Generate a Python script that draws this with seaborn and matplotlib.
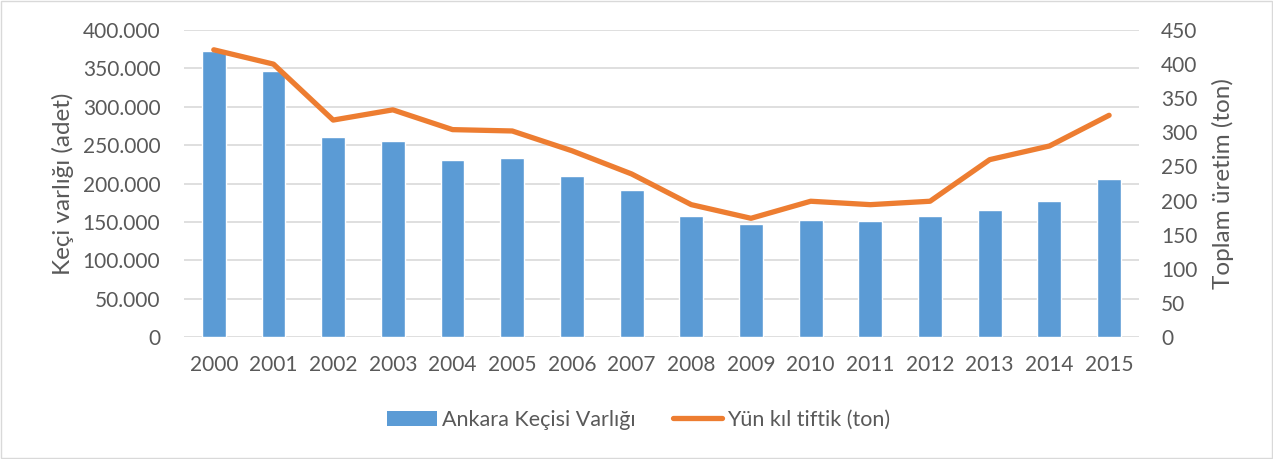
import pandas as pd
import numpy as np
import matplotlib.pyplot as plt
import seaborn as sns
from matplotlib.patches import Patch, Rectangle
from matplotlib.lines import Line2D
from matplotlib.ticker import FuncFormatter

years = ['2000', '2001', '2002', '2003', '2004', '2005', '2006', '2007',
         '2008', '2009', '2010', '2011', '2012', '2013', '2014', '2015']
goats = [373000, 346000, 261000, 256000, 230000, 233000, 209500, 191000,
         158000, 147000, 153000, 151500, 158000, 166000, 177500, 205500]
wool = [421, 400, 318, 333, 304, 302, 273, 239,
        194, 174, 199, 194, 199, 260, 280, 325]

df = pd.DataFrame({'year': years, 'goats': goats, 'wool': wool})

sns.set_theme(style='white')
plt.rcParams['font.family'] = ['Lato', 'DejaVu Sans']
txt = '#595959'
bar_c = '#5B9BD5'
line_c = '#ED7D31'

fig = plt.figure(figsize=(12.73, 4.59), dpi=100)
ax = fig.add_axes([0.1445, 0.2658, 0.7502, 0.6688])
ax2 = ax.twinx()

sns.barplot(data=df, x='year', y='goats', color=bar_c, width=0.4,
            saturation=1, ax=ax, zorder=2)
sns.lineplot(data=df, x='year', y='wool', color=line_c, linewidth=3.8,
             ax=ax2, solid_capstyle='round', solid_joinstyle='round')

ax.set_ylim(0, 400000)
ax.set_yticks(np.arange(0, 400001, 50000))
ax.yaxis.set_major_formatter(FuncFormatter(lambda v, p: f'{int(v):,}'.replace(',', '.')))
ax2.set_ylim(0, 450)
ax2.set_yticks(np.arange(0, 451, 50))
ax.set_xlim(-0.5, len(years) - 0.5)

ax.grid(axis='y', color='#d9d9d9', linewidth=1.2, zorder=0)
ax.set_axisbelow(True)
for a in (ax, ax2):
    for s in a.spines.values():
        s.set_visible(False)
    a.tick_params(length=0, colors=txt, labelsize=15)
ax.tick_params(axis='y', pad=17)
ax.tick_params(axis='x', pad=13)
ax2.tick_params(axis='y', pad=16)

ax.set_xlabel('')
ax.set_ylabel('Keçi varlığı (adet)', fontsize=17.5, color=txt, labelpad=6)
ax2.set_ylabel('Toplam üretim (ton)', fontsize=17.5, color=txt, labelpad=10)

handles = [Patch(facecolor=bar_c, edgecolor='none'),
           Line2D([0], [0], color=line_c, linewidth=3.8, solid_capstyle='round')]
fig.legend(handles, ['Ankara Keçisi Varlığı', 'Yün kıl tiftik (ton)'],
           loc='center', bbox_to_anchor=(0.502, 0.085), ncol=2, frameon=False,
           fontsize=15.5, labelcolor=txt, handlelength=2.3, handleheight=0.7,
           handletextpad=0.25, columnspacing=1.7)

fig.patches.append(Rectangle((0.001, 0.002), 0.998, 0.996, transform=fig.transFigure,
                             fill=False, edgecolor='#d9d9d9', linewidth=1))

fig.savefig('out.png', dpi=100)
